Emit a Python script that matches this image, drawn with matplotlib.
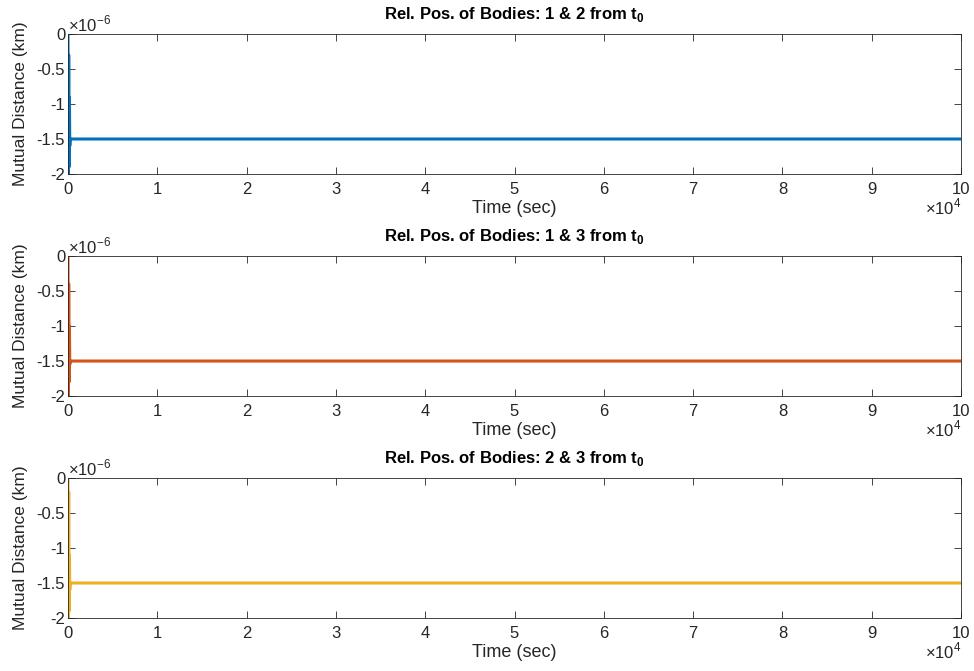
import matplotlib.pyplot as plt
from matplotlib.ticker import FuncFormatter
import numpy as np

plt.rcParams['font.family'] = ['Liberation Sans', 'DejaVu Sans']
plt.rcParams['axes.unicode_minus'] = False
plt.rcParams['mathtext.fontset'] = 'custom'
plt.rcParams['mathtext.rm'] = 'Liberation Sans'
plt.rcParams['mathtext.bf'] = 'Liberation Sans:bold'

# time (sec) and relative mutual distance (km) for each pair
time = [0, 40, 80, 120, 160, 200, 250, 300, 1.0e5]
dist_12 = [0, -2.0e-6, -0.3e-6, -1.9e-6, -0.9e-6, -1.6e-6, -1.5e-6, -1.5e-6, -1.5e-6]
dist_13 = [0, -2.0e-6, -0.4e-6, -1.8e-6, -1.0e-6, -1.55e-6, -1.5e-6, -1.5e-6, -1.5e-6]
dist_23 = [0, -2.0e-6, -0.2e-6, -1.9e-6, -1.1e-6, -1.6e-6, -1.5e-6, -1.5e-6, -1.5e-6]

pairs = ['1 & 2', '1 & 3', '2 & 3']
series = [dist_12, dist_13, dist_23]
colors = ['#0072BD', '#D95319', '#EDB120']

xticks = np.arange(0, 1.01e5, 1e4)
yticks = [-2e-6, -1.5e-6, -1e-6, -0.5e-6, 0]

fig = plt.figure(figsize=(9.74, 6.71), dpi=100)
left, width = 0.0698, 0.9169
bottoms = [0.7407, 0.4098, 0.079]
height = 0.2086
tc = '#262626'

for i in range(3):
    ax = fig.add_axes([left, bottoms[i], width, height])
    ax.plot(time, series[i], color=colors[i], linewidth=2.2)
    ax.set_xlim(0, 1e5)
    ax.set_ylim(-2e-6, 0)
    ax.set_xticks(xticks)
    ax.set_yticks(yticks)
    ax.xaxis.set_major_formatter(FuncFormatter(lambda v, p: '%g' % round(v / 1e4, 6)))
    ax.yaxis.set_major_formatter(FuncFormatter(lambda v, p: '%g' % round(v / 1e-6, 6)))

    ax.tick_params(direction='in', top=True, right=True, labelsize=12,
                   length=5, width=0.6, colors=tc, pad=2)
    ax.tick_params(axis='x', pad=6)
    for s in ax.spines.values():
        s.set_linewidth(0.6)
        s.set_color(tc)

    ax.text(0.0, 1.0, r'$\times 10^{-6}$', transform=ax.transAxes,
            ha='left', va='bottom', fontsize=12, color=tc)
    ax.text(1.0, -0.16, r'$\times 10^{4}$', transform=ax.transAxes,
            ha='right', va='top', fontsize=12, color=tc)

    ax.set_xlabel('Time (sec)', fontsize=13, labelpad=2, color=tc)
    ax.set_ylabel('Mutual Distance (km)', fontsize=12.5, labelpad=6, color=tc)
    ax.set_title('Rel. Pos. of Bodies: ' + pairs[i] + r' from t$_\mathbf{0}$',
                 fontsize=12, fontweight='bold', pad=11)

fig.savefig('out.png', dpi=100)
